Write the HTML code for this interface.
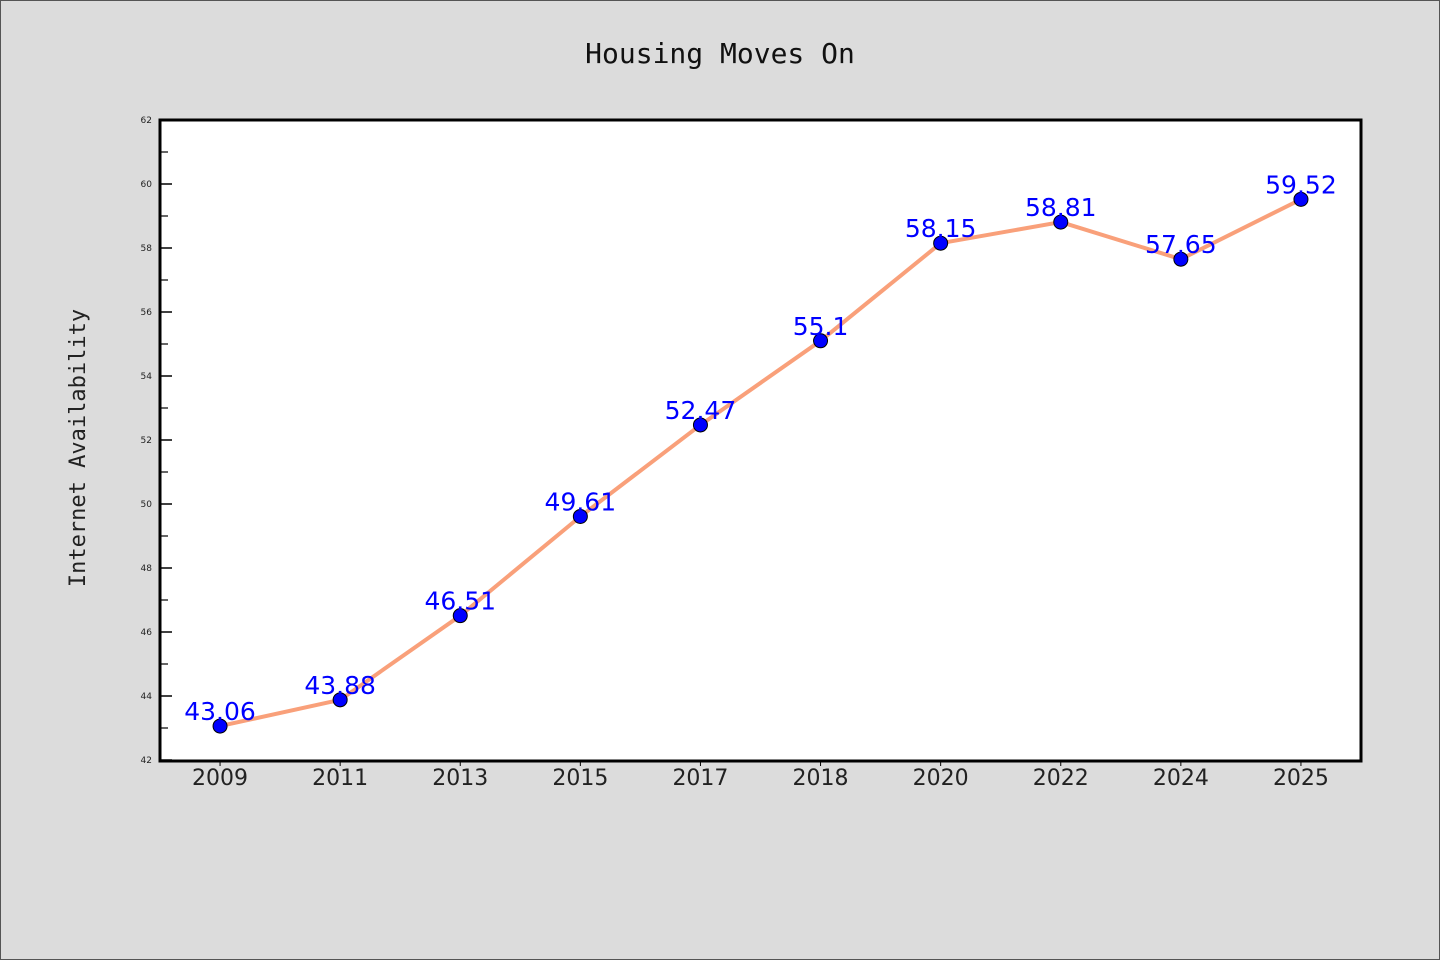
<!DOCTYPE html>
<html><head><meta charset="utf-8"><style>
body{margin:0;background:#dcdcdc;}
svg{display:block;}
</style></head><body>
<svg width="1440" height="960" xmlns="http://www.w3.org/2000/svg">
<rect x="0.5" y="0.5" width="1439" height="959" fill="#dcdcdc" stroke="#555"/>
<text x="720" y="63" text-anchor="middle" font-family="'DejaVu Sans Mono','Liberation Mono',monospace" font-size="28" fill="#111">Housing Moves On</text>
<text transform="translate(85,448) rotate(-90)" text-anchor="middle" font-family="'DejaVu Sans Mono','Liberation Mono',monospace" font-size="22" fill="#222">Internet Availability</text>
<rect x="160" y="120" width="1201" height="641" fill="#fff"/>
<g id="ticks"></g>
<g id="series"></g>
<rect x="160" y="120" width="1201" height="641" fill="none" stroke="#000" stroke-width="3"/>
<g id="labels"></g>
</svg>
<script>
const categories=["2009","2011","2013","2015","2017","2018","2020","2022","2024","2025"];
const values=[43.06,43.88,46.51,49.61,52.47,55.1,58.15,58.81,57.65,59.52];
const valueLabels=["43.06","43.88","46.51","49.61","52.47","55.1","58.15","58.81","57.65","59.52"];
const yTicks=[42,44,46,48,50,52,54,56,58,60,62];
const yMin=42,yMax=62;
const L=160,R=1361,T=120,B=760;
const NS="http://www.w3.org/2000/svg";
const band=(R-L)/categories.length;
function xs(i){return L+band*(i+0.5);}
function ys(v){return B-(v-yMin)/(yMax-yMin)*(B-T);}
function mk(tag,attrs,parent){const e=document.createElementNS(NS,tag);for(const k in attrs)e.setAttribute(k,attrs[k]);parent.appendChild(e);return e;}
const tg=document.getElementById('ticks'),sg=document.getElementById('series'),lg=document.getElementById('labels');
yTicks.forEach((t,i)=>{
 const y=ys(t);
 const l=mk('line',{x1:L,x2:L+12,y1:y,y2:y,stroke:'#000','stroke-width':1.5},tg);
 
 
 const tx=mk('text',{x:L-8,y:y+3,'text-anchor':'end','font-family':'DejaVu Sans, sans-serif','font-size':9,fill:'#222'},tg);
 tx.textContent=t;
 
 
 if(i<yTicks.length-1){
  const ym=ys(t+(yTicks[1]-yTicks[0])/2);
  const m=mk('line',{x1:L,x2:L+8,y1:ym,y2:ym,stroke:'#000','stroke-width':1.2},tg);
  
  
 }
});
categories.forEach((c,i)=>{
 const x=xs(i);
 const l=mk('line',{x1:x,x2:x,y1:B,y2:B+6,stroke:'#000','stroke-width':1},tg);
 
 
 const tx=mk('text',{x:x,y:B+25,'text-anchor':'middle','font-family':'DejaVu Sans, sans-serif','font-size':22,fill:'#222'},lg);
 tx.textContent=c;
 
 
});
const pts=values.map((v,i)=>xs(i)+','+ys(v)).join(' ');
const line=mk('polyline',{points:pts,fill:'none',stroke:'#f9a07a','stroke-width':4,'stroke-linejoin':'round'},sg);


values.forEach((v,i)=>{
 const c=mk('circle',{cx:xs(i),cy:ys(v),r:7,fill:'#0000ff',stroke:'#000','stroke-width':1},sg);
 
 
 const t=mk('text',{x:xs(i),y:ys(v)-6,'text-anchor':'middle','font-family':'DejaVu Sans, sans-serif','font-size':25,fill:'#0000ff'},sg);
 t.textContent=valueLabels[i];
 
 
});
</script>
</body></html>
